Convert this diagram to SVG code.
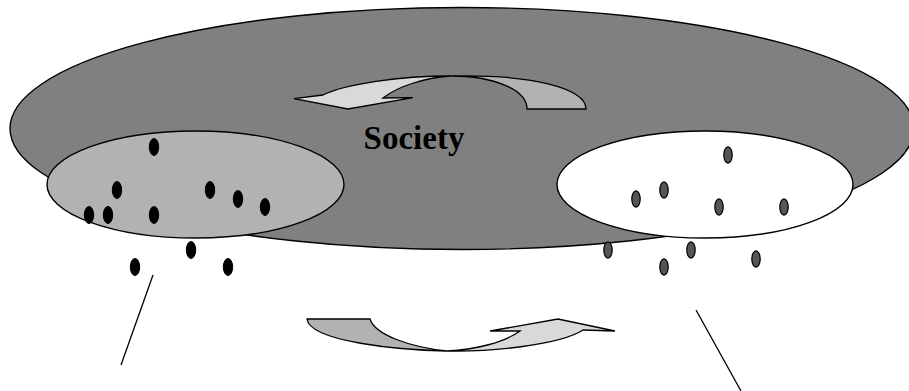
<svg xmlns="http://www.w3.org/2000/svg" width="909" height="391" viewBox="0 0 909 391">
<style>
.ol{stroke:#000;stroke-width:1.4}
.dk{fill:#000;stroke:#000;stroke-width:1}
.gd{fill:#555;stroke:#000;stroke-width:1.2}
.band1{fill:#b2b2b2;stroke:#000;stroke-width:1.3;stroke-linejoin:miter}
.band2{fill:#d9d9d9;stroke:#000;stroke-width:1.3;stroke-linejoin:miter}
.ln{stroke:#000;stroke-width:1.3;fill:none}
</style>
<rect width="909" height="391" fill="#fff"/>
<g id="society">
<ellipse class="ol" cx="462" cy="128.5" rx="452" ry="121" fill="#808080"/>
<text x="414" y="149" text-anchor="middle" font-family="Liberation Serif, serif" font-weight="bold" font-size="33">Society</text>
</g>
<g id="group-left">
<ellipse class="ol" cx="195.5" cy="184.5" rx="148.5" ry="53.5" fill="#b2b2b2"/>
<ellipse class="dk" cx="154" cy="147" rx="4.7" ry="8.5"/>
<ellipse class="dk" cx="117" cy="190" rx="4.7" ry="8.5"/>
<ellipse class="dk" cx="89" cy="215" rx="4.7" ry="8.5"/>
<ellipse class="dk" cx="108" cy="215" rx="4.7" ry="8.5"/>
<ellipse class="dk" cx="154" cy="215" rx="4.7" ry="8.5"/>
<ellipse class="dk" cx="210" cy="190" rx="4.7" ry="8.5"/>
<ellipse class="dk" cx="238" cy="199" rx="4.7" ry="8.5"/>
<ellipse class="dk" cx="265" cy="207" rx="4.7" ry="8.5"/>
<ellipse class="dk" cx="191" cy="250" rx="4.7" ry="8.5"/>
<ellipse class="dk" cx="135" cy="267" rx="4.7" ry="8.5"/>
<ellipse class="dk" cx="228" cy="267" rx="4.7" ry="8.5"/>
</g>
<g id="group-right">
<ellipse class="ol" cx="705" cy="184.5" rx="148" ry="53.5" fill="#fff"/>
<ellipse class="gd" cx="728" cy="155" rx="4.2" ry="8.2"/>
<ellipse class="gd" cx="664" cy="190" rx="4.2" ry="8.2"/>
<ellipse class="gd" cx="636" cy="199" rx="4.2" ry="8.2"/>
<ellipse class="gd" cx="719" cy="207" rx="4.2" ry="8.2"/>
<ellipse class="gd" cx="784" cy="207" rx="4.2" ry="8.2"/>
<ellipse class="gd" cx="608" cy="250" rx="4.2" ry="8.2"/>
<ellipse class="gd" cx="691" cy="250" rx="4.2" ry="8.2"/>
<ellipse class="gd" cx="664" cy="267" rx="4.2" ry="8.2"/>
<ellipse class="gd" cx="756" cy="259" rx="4.2" ry="8.2"/>
</g>
<g id="arrow-top">
<path class="band1" d="M527,109 C527,90 495,76 450,76 C530,74 586,88 586,109 Z"/>
<path class="band2" d="M450,76 C400,76 345,84 323,95 L294,98.7 L348,109 L413,97.7 L383,98 C398,86 425,78 450,76 Z"/>
</g>
<g id="arrow-bottom">
<path class="band1" d="M307,319 L370,319 C375,335 410,347 447,351 C400,350 310,342 307,319 Z"/>
<path class="band2" d="M447,351 C490,352 560,345 583,330 L615,331 L558,319 L490,331 L520,331 C505,342 475,350 447,351 Z"/>
</g>
<g id="connectors">
<line class="ln" x1="153" y1="275" x2="121" y2="365"/>
<line class="ln" x1="696" y1="310" x2="741" y2="391"/>
</g>
</svg>
